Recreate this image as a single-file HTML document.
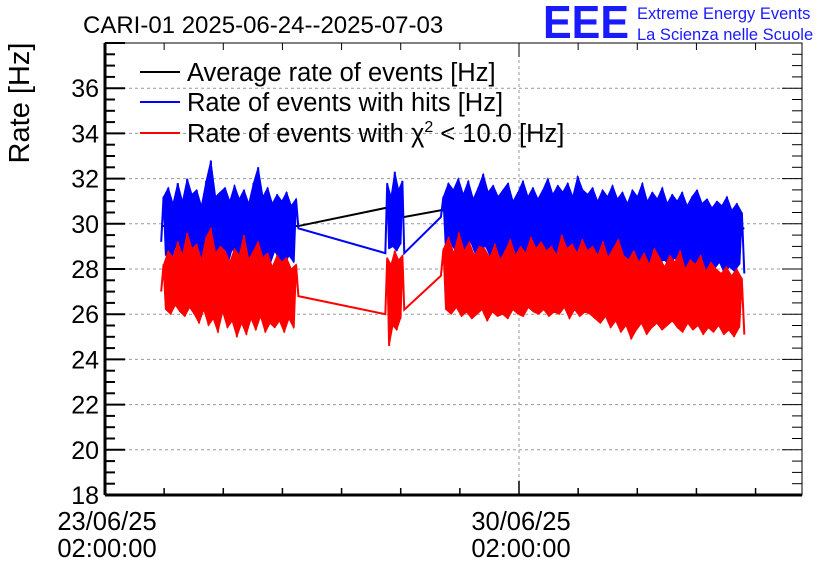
<!DOCTYPE html>
<html><head><meta charset="utf-8"><style>
html,body{margin:0;padding:0;background:#fff;width:836px;height:572px;overflow:hidden}
svg text{font-family:"Liberation Sans",sans-serif}
</style></head><body>
<svg id="chart" width="836" height="572" xmlns="http://www.w3.org/2000/svg">
<text x="83" y="33" font-size="24">CARI-01 2025-06-24--2025-07-03</text>
<text x="543" y="38" font-size="46" fill="#1a1aff" font-weight="bold" textLength="86" lengthAdjust="spacingAndGlyphs">EEE</text>
<text x="637" y="19" font-size="16.5" fill="#1a1aff">Extreme Energy Events</text>
<text x="637" y="40" font-size="16.5" fill="#1a1aff">La Scienza nelle Scuole</text>
<text transform="translate(29,103) rotate(-90)" text-anchor="middle" font-size="29">Rate [Hz]</text>
<g id="grid"></g><g id="series"></g><g id="axes"></g>
<g>
<line x1="140" y1="72" x2="180" y2="72" stroke="#000" stroke-width="2"/>
<text x="187" y="81" font-size="25.5">Average rate of events [Hz]</text>
<line x1="140" y1="102" x2="180" y2="102" stroke="#00f" stroke-width="2"/>
<text x="187" y="111" font-size="25.5">Rate of events with hits [Hz]</text>
<line x1="140" y1="133" x2="180" y2="133" stroke="#f00" stroke-width="2"/>
<text x="187" y="142" font-size="25.5">Rate of events with χ<tspan font-size="16" dy="-10">2</tspan><tspan dy="10"> &lt; 10.0 [Hz]</tspan></text>
</g>
</svg>
<script>
const yTicks=[18,20,22,24,26,28,30,32,34,36];
const xTickDays=[0,7];
const xTickLabels=[["23/06/25","02:00:00"],["30/06/25","02:00:00"]];
const segStart=[0.95,4.74,5.68];
const segEnd=[3.27,5.06,10.81];
const avgSeg=[[29.9,29.9],[30.7,30.3],[30.6,29.8]];
const blueSeg1=[29.2,31.2,28.6,31.6,28.3,30.9,29.0,31.8,28.4,31.0,28.7,32.0,28.5,31.3,28.9,31.5,28.2,30.8,28.6,31.9,28.4,32.8,28.8,31.2,28.3,31.4,28.7,31.6,28.1,31.0,28.9,31.7,28.4,31.1,28.2,31.5,28.6,30.9,28.0,31.8,28.5,32.5,28.3,31.2,28.7,31.6,28.2,30.9,28.8,31.3,28.4,31.0,28.1,31.4,28.6,30.8,28.3,31.1,29.8];
const blueSeg2=[28.7,31.8,28.9,31.2,29.0,32.3,28.8,31.5,29.1,31.9,28.7];
const blueSeg3=[30.3,31.2,28.9,31.8,29.1,31.5,28.8,32.0,29.0,31.3,28.7,31.9,29.2,31.1,28.6,31.6,28.9,32.2,29.0,31.4,28.5,31.7,28.8,31.2,28.4,31.5,28.9,31.8,28.6,31.0,28.7,31.4,28.5,31.9,28.8,31.2,28.6,31.6,29.0,31.1,28.7,31.5,28.6,32.0,28.9,31.3,28.5,31.7,28.8,31.4,28.6,31.8,28.9,31.2,28.7,32.1,28.6,31.5,28.8,31.3,28.5,31.6,28.7,31.0,28.4,31.5,28.3,31.2,28.6,31.7,28.2,31.1,28.5,31.4,28.1,30.9,28.4,31.5,28.6,31.2,28.3,31.8,28.5,31.0,28.2,31.4,28.6,31.1,28.3,31.6,28.4,30.9,28.1,31.3,28.5,31.0,28.2,31.4,28.0,30.8,28.3,31.2,28.1,31.5,28.4,30.9,27.9,31.1,28.2,30.7,28.0,31.0,28.3,30.8,27.8,31.2,28.1,30.6,27.9,30.9,28.2,30.5,27.8];
const redSeg1=[27.0,28.2,26.2,28.8,26.0,28.5,26.4,29.2,26.1,28.6,25.9,29.6,26.3,28.9,26.0,29.1,25.6,28.4,26.2,29.4,25.5,29.8,25.8,28.7,25.2,29.0,26.1,28.8,25.4,28.3,25.7,28.9,25.0,28.6,25.6,29.5,25.1,28.4,25.8,28.8,25.3,29.2,25.9,28.5,25.2,28.7,25.6,28.1,25.4,28.6,25.7,28.3,25.2,28.5,25.8,28.0,25.4,28.2,26.8];
const redSeg2=[26.0,28.5,24.6,28.2,25.5,28.8,25.3,28.4,25.8,28.6,26.2];
const redSeg3=[27.7,28.9,26.2,29.4,26.0,28.7,26.3,29.6,25.9,28.8,26.1,29.2,25.8,28.6,26.0,29.0,26.2,28.9,25.7,28.5,26.1,29.1,25.9,28.4,26.0,28.8,25.8,29.3,26.2,28.6,26.0,29.0,25.9,28.7,26.3,29.4,26.1,28.9,26.0,29.2,26.2,28.8,25.9,29.0,26.1,28.6,26.0,29.5,26.3,28.9,25.8,29.1,26.2,28.7,25.9,29.3,26.1,28.8,26.0,29.0,25.8,28.6,25.6,29.2,25.9,28.5,25.4,28.9,25.7,29.3,25.2,28.6,25.5,28.4,24.9,28.8,25.3,28.3,25.6,28.7,25.1,28.2,25.4,28.9,25.6,28.5,25.3,28.1,25.5,28.6,25.7,28.3,25.4,28.8,25.2,28.0,25.6,28.4,25.3,28.2,25.5,28.6,25.1,27.9,25.4,28.3,25.2,28.0,25.5,27.8,25.1,28.1,25.3,27.7,25.0,28.0,25.4,27.6,25.1];
const X0=105,X1=802,Y0=495,Y1=43,DMAX=(802-105)/((519-105)/7),VMIN=18,VMAX=38;
const xs=d=>X0+d/DMAX*(X1-X0);
const ys=v=>Y0-(v-VMIN)/(VMAX-VMIN)*(Y0-Y1);
const NS="http://www.w3.org/2000/svg";
function mk(tag,attrs,parent){const e=document.createElementNS(NS,tag);for(const k in attrs)e.setAttribute(k,attrs[k]);parent.appendChild(e);return e;}
const grid=document.getElementById('grid'),ser=document.getElementById('series'),ax=document.getElementById('axes');
yTicks.forEach(v=>{const l=mk('line',{x1:X0,x2:X1,y1:ys(v),y2:ys(v),stroke:'#999','stroke-dasharray':'3,3'},grid);

});
xTickDays.forEach(d=>{const l=mk('line',{x1:xs(d),x2:xs(d),y1:Y0,y2:Y1,stroke:'#999','stroke-dasharray':'3,3'},grid);

});
function segPts(vals,k){const n=vals.length;return vals.map((v,i)=>[xs(segStart[k]+(segEnd[k]-segStart[k])*i/(n-1)),ys(v)]);}
function pts(segs){let p=[];segs.forEach((vals,k)=>{segPts(vals,k).forEach(q=>p.push(q[0].toFixed(2)+','+q[1].toFixed(2)));});return p.join(' ');}
function bands(segs,color,name){segs.forEach((vals,k)=>{const P=segPts(vals,k);
  const top=[],bot=[];
  for(let i=1;i<P.length-1;i++){const mid=(i%2===1)?top:bot;mid.push(P[i]);}
  const poly=top.concat(bot.slice().reverse()).map(q=>q[0].toFixed(2)+','+q[1].toFixed(2)).join(' ');
  const b=mk('polygon',{points:poly,fill:color,stroke:color,'stroke-width':1},ser);
  
  
});}
const avg=mk('polyline',{points:pts(avgSeg),fill:'none',stroke:'#000','stroke-width':2},ser);


bands([blueSeg1,blueSeg2,blueSeg3],'#00f','hits-rate-band');
const blue=mk('polyline',{points:pts([blueSeg1,blueSeg2,blueSeg3]),fill:'none',stroke:'#00f','stroke-width':2},ser);


bands([redSeg1,redSeg2,redSeg3],'#f00','chi2-rate-band');
const red=mk('polyline',{points:pts([redSeg1,redSeg2,redSeg3]),fill:'none',stroke:'#f00','stroke-width':2},ser);


const fr=mk('rect',{x:X0,y:Y1,width:X1-X0,height:Y0-Y1,fill:'none',stroke:'#000','stroke-width':1},ax);


mk('line',{x1:X0,x2:X1,y1:Y0,y2:Y0,stroke:'#000','stroke-width':3},ax);
mk('line',{x1:X0,x2:X0,y1:Y0,y2:Y1,stroke:'#000','stroke-width':3},ax);
for(let v=VMIN;v<=VMAX+0.01;v+=0.5){const major=Math.abs(v/2-Math.round(v/2))<0.01;const L=major?20:10;
mk('line',{x1:X0,x2:X0+L,y1:ys(v),y2:ys(v),stroke:'#000','stroke-width':2},ax);
mk('line',{x1:X1,x2:X1-L,y1:ys(v),y2:ys(v),stroke:'#000','stroke-width':1},ax);}
yTicks.forEach(v=>{const t=mk('text',{x:X0-6,y:ys(v)+9,'text-anchor':'end','font-size':25},ax);t.textContent=v;

});
for(let d=0;d<=DMAX;d+=1){const major=xTickDays.includes(d);const L=major?14:7;
mk('line',{x1:xs(d),x2:xs(d),y1:Y0,y2:Y0-L,stroke:'#000','stroke-width':1.5},ax);
mk('line',{x1:xs(d),x2:xs(d),y1:Y1,y2:Y1+L,stroke:'#000','stroke-width':1},ax);}
xTickDays.forEach((d,i)=>{xTickLabels[i].forEach((s,j)=>{const t=mk('text',{x:xs(d)+2,y:530+j*27,'text-anchor':'middle','font-size':25.5},ax);t.textContent=s;

});});
</script>
</body></html>
